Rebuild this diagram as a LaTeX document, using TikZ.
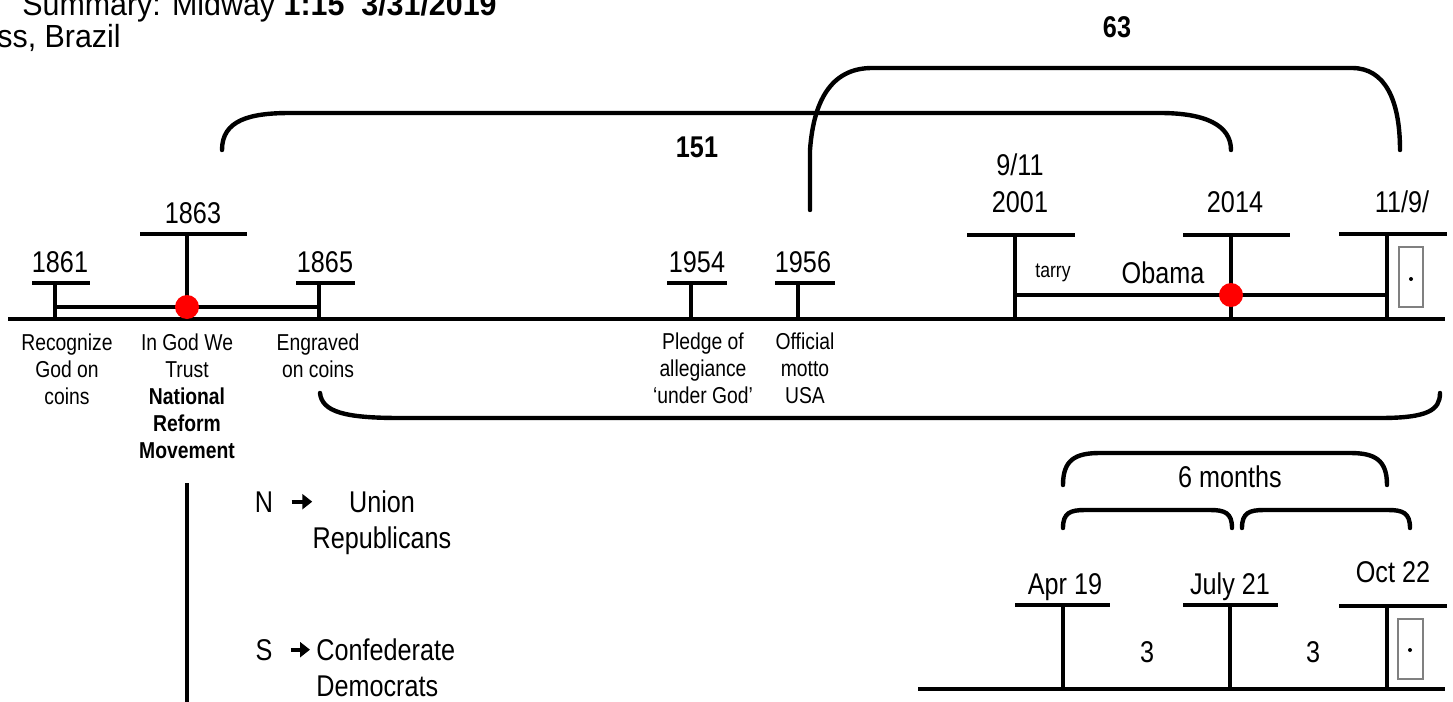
\documentclass[tikz,border=0pt]{standalone}
\usepackage{fontspec}
\setmainfont{Liberation Sans}[FakeStretch=0.84]
\newfontfamily\headfont{Liberation Sans}[FakeStretch=0.95]
\usetikzlibrary{arrows.meta}

\tikzset{
  yr/.style={font=\fontsize{15}{18}\selectfont,inner sep=0pt,anchor=base},
  lbl/.style={font=\fontsize{11.5}{13.5}\selectfont,inner sep=0pt,anchor=north,align=center},
  bar/.style={line width=2pt},
  brace/.style={line width=2.2pt,line cap=round},
  arr/.style={line width=2pt,-{Triangle[length=5pt,width=7.5pt]}},
}

\begin{document}
\begin{tikzpicture}[x=0.5pt,y=-0.5pt,>=Stealth]
 \useasboundingbox (0,0) rectangle (1453,702);
 \clip (0,0) rectangle (1453,702);
 % heading, cut off at the page edge
 \node[yr,anchor=base west,font=\headfont\fontsize{16}{19}\selectfont] (head) at (22,15)
      {Summary: Midway \textbf{1:15}\ \ \textbf{3/31/2019}};
 \node[yr,anchor=base west,font=\headfont\fontsize{16}{19}\selectfont] (place) at (-3,47)
      {ss, Brazil};

 % main timeline
 \begin{scope}[bar]
  \draw (8,319) -- (1445,319);
  \draw (32,283) -- (90,283);    \draw (55,283) -- (55,319);
  \draw (140,234) -- (247,234);  \draw (187,234) -- (187,307);
  \draw (296,283) -- (355,283);  \draw (319,283) -- (319,319);
  \draw (55,307) -- (319,307);
  \draw (667,283) -- (727,283);  \draw (691,283) -- (691,319);
  \draw (775,283) -- (835,283);  \draw (798,283) -- (798,319);
  \draw (967,235) -- (1075,235); \draw (1015,235) -- (1015,319);
  \draw (1183,235) -- (1290,235);\draw (1231,235) -- (1231,319);
  \draw (1339,234) -- (1447,234);\draw (1387,234) -- (1387,319);
  \draw (1015,295) -- (1387,295);
 \end{scope}
 \fill[red] (187,307) circle[radius=12];
 \fill[red] (1231,295) circle[radius=12];
 \draw[gray,line width=.6pt] (1399,247) rectangle (1423,307);
 \fill (1411,279) circle[radius=2];

 \node[yr] (y1861) at (60,272) {1861};
 \node[yr] (y1863) at (193,223) {1863};
 \node[yr] (y1865) at (325,272) {1865};
 \node[yr] (y1954) at (697,272) {1954};
 \node[yr] (y1956) at (803,272) {1956};
 \node[yr] (y911) at (1020,175) {9/11};
 \node[yr] (y2001) at (1020,212) {2001};
 \node[yr] (y2014) at (1235,212) {2014};
 \node[yr] (y119) at (1402,212) {11/9/};
 \node[yr,font=\fontsize{10.5}{12}\selectfont] (tarry) at (1053,277) {tarry};
 \node[yr] (obama) at (1163,283) {Obama};

 \node[lbl] (recog) at (67,333) {Recognize\\God on\\coins};
 \node[lbl] (trust) at (187,333)
      {In God We\\Trust\\\textbf{National}\\\textbf{Reform}\\\textbf{Movement}};
 \node[lbl] (engr) at (318,333) {Engraved\\on coins};
 \node[lbl] (pledge) at (703,332) {Pledge of\\allegiance\\‘under God’};
 \node[lbl] (motto) at (805,332) {Official\\motto\\USA};

 % spans
 \draw[brace] (222,150) .. controls (222,120) and (250,113) .. (290,113)
      -- (1160,113) .. controls (1205,113) and (1231,125) .. (1231,150);
 \node[yr] (d151) at (697,157) {\textbf{151}};
 \draw[brace] (810,210) -- (810,150) .. controls (814,95) and (835,68) .. (872,68)
      -- (1352,68) .. controls (1385,68) and (1400,100) .. (1400,150);
 \node[yr] (d63) at (1117,37) {\textbf{63}};
 \draw[brace] (320,393) .. controls (322,412) and (345,418) .. (400,418)
      -- (1380,418) .. controls (1428,418) and (1440,410) .. (1440,393);

 % north / south
 \draw[bar] (187,483) -- (187,705);
 \node[yr] (nN) at (264,512) {N};
 \node[yr,anchor=north,align=center] (union) at (382,490) {Union\\Republicans};
 \draw[arr,shorten <=9pt] (nN.east) -- (nN.east -| union.west);
 \node[yr] (sS) at (264,660) {S};
 \node[yr,anchor=north west,align=left] (conf) at (316,638) {Confederate\\Democrats};
 \draw[arr,shorten <=9pt,shorten >=3pt] (sS.east) -- (sS.east -| conf.west);

 % six months
 \begin{scope}[bar]
  \draw (918,689) -- (1445,689);
  \draw (1015,605) -- (1110,605); \draw (1063,605) -- (1063,689);
  \draw (1183,605) -- (1278,605); \draw (1230,605) -- (1230,689);
  \draw (1339,606) -- (1447,606); \draw (1387,606) -- (1387,689);
 \end{scope}
 \draw[gray,line width=.6pt] (1398,619) rectangle (1423,679);
 \fill (1410,650) circle[radius=2];
 \node[yr] (apr) at (1065,594) {Apr 19};
 \node[yr] (jul) at (1230,594) {July 21};
 \node[yr] (oct) at (1393,582) {Oct 22};
 \node[yr] (m1) at (1147,662) {3};
 \node[yr] (m2) at (1313,662) {3};
 \draw[brace] (1063,485) .. controls (1063,460) and (1075,453) .. (1100,453)
      -- (1350,453) .. controls (1375,453) and (1387,460) .. (1387,485);
 \node[yr] (six) at (1230,487) {6 months};
 \draw[brace] (1063,528) .. controls (1063,513) and (1070,510) .. (1085,510)
      -- (1210,510) .. controls (1225,510) and (1232,513) .. (1232,528);
 \draw[brace] (1242,528) .. controls (1242,513) and (1249,510) .. (1264,510)
      -- (1388,510) .. controls (1403,510) and (1410,513) .. (1410,528);
\end{tikzpicture}
\end{document}
